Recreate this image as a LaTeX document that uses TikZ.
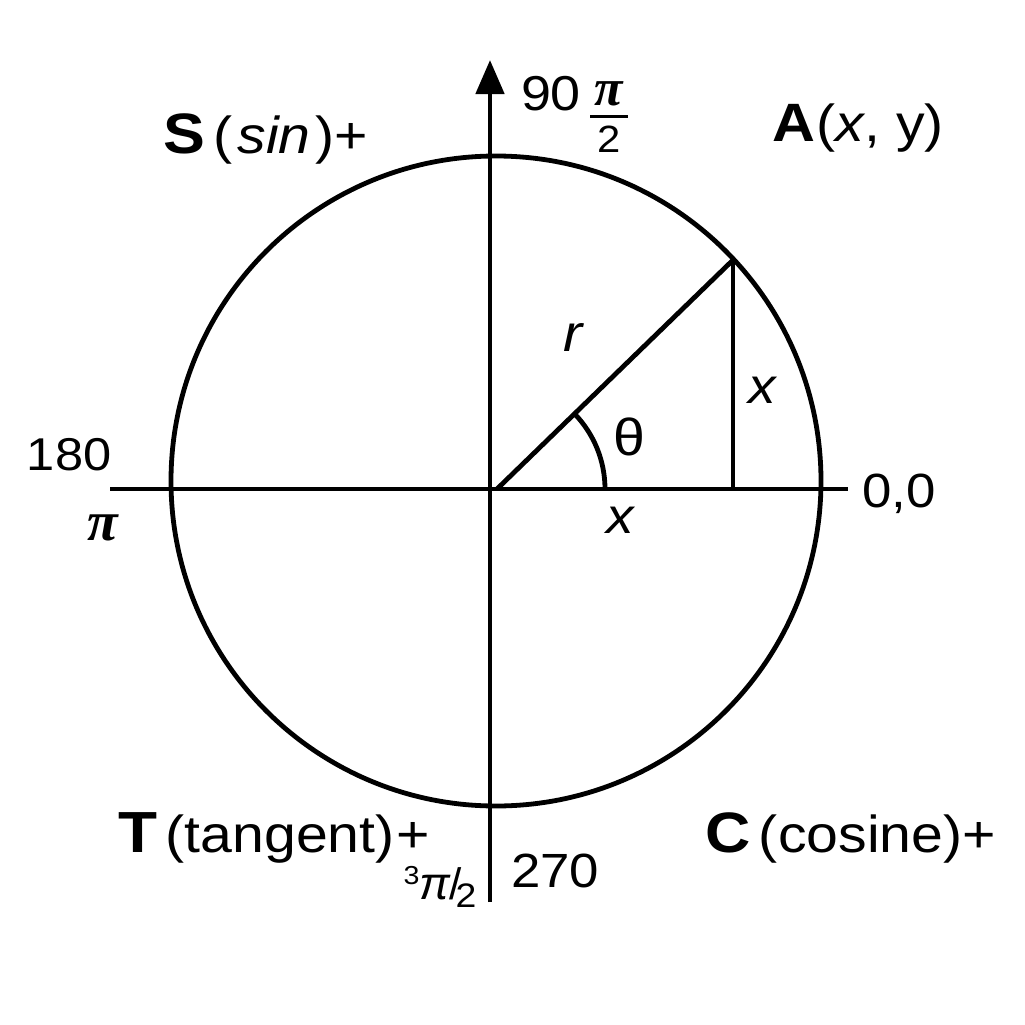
\documentclass[tikz,border=0pt]{standalone}
\usepackage{fontspec}
\setmainfont[FakeStretch=1.1]{Liberation Sans}
\newfontfamily\piserif{Liberation Serif}
\newfontfamily\pisans{Liberation Sans}
\usetikzlibrary{arrows.meta}
\tikzset{
  stroke/.style={line width=4.8pt, black},
  lbl/.style={inner sep=0pt, outer sep=0pt, font=\fontsize{46}{50}\selectfont},
  quad/.style={inner sep=0pt, outer sep=0pt, anchor=base west, font=\fontsize{52}{56}\selectfont},
}
\begin{document}
\begin{tikzpicture}[x=1pt,y=-1pt]
\useasboundingbox (0,0) rectangle (1025,1025);
\fill[white] (0,0) rectangle (1025,1025);
% axes
\coordinate (xl) at (110,489);
\coordinate (xr) at (848,489);
\coordinate (yb) at (490,902);
\coordinate (yt) at (490,60);
\coordinate (O) at (497,489);
\coordinate (C0) at (496,481);
\coordinate (P) at (733,260);
\coordinate (Q) at (733,489);
\draw[stroke] (xl) -- (xr);
\draw[stroke, -{Triangle[length=34pt,width=28pt]}] (yb) -- (yt);
% circle
\draw[stroke] (C0) circle[radius=325];
% radius and vertical
\draw[stroke] (O) -- (P);
\draw[stroke] (P) -- (Q);
% angle arc
\draw[stroke] (605,489) arc[start angle=0, end angle=-44, radius=108];
% inner labels
\node[lbl, font=\fontsize{52}{56}\selectfont\itshape] (r) at (573,338) {r};
\node[lbl, font=\fontsize{50}{56}\selectfont\itshape] (xv) at (762,390) {x};
\node[lbl, font=\fontsize{52}{56}\selectfont] (th) at (629,437) {θ};
\node[lbl, font=\fontsize{50}{56}\selectfont\itshape] (xh) at (620,520) {x};
% axis labels
\node[quad, font=\fontsize{48}{50}\selectfont] (n00) at (862,507) {0,0};
\node[quad, font=\fontsize{46}{50}\selectfont] (n180) at (27,470) {180};
\node[lbl, font=\fontsize{56}{56}\selectfont\piserif\bfseries\itshape] (npi) at (103,528) {π};
\node[quad, font=\fontsize{49}{50}\selectfont] (n90) at (521,110) {90};
\node[inner sep=0pt, outer sep=0pt, anchor=base, align=center, font=\fontsize{38}{30}\selectfont] (npi2) at (609,152)
  {{\fontsize{52}{30}\selectfont\piserif\bfseries\itshape π}\\[-17pt]\rule{38pt}{3.5pt}\\[4pt]2};
\node[quad, font=\fontsize{48}{50}\selectfont] (n270) at (511,887) {270};
\node[lbl] (n3pi2) at (440,888)
  {{\fontsize{26}{28}\selectfont\smash{\raisebox{15pt}{3}}}{\fontsize{46}{46}\selectfont\pisans\itshape π}\kern-1pt{\fontsize{44}{44}\selectfont\pisans /}\kern-6pt{\fontsize{34}{36}\selectfont\raisebox{-8pt}{2}}};
% quadrant labels
\node[quad] (S) at (163,153) {{\fontsize{57}{60}\selectfont\bfseries S}\,(\kern5pt\textit{sin}\kern5pt)+};
\node[quad] (A) at (772,141) {{\fontsize{54}{60}\selectfont\bfseries A}\kern2pt(\textit{x}, y)};
\node[quad] (T) at (118,852) {{\fontsize{58}{60}\selectfont\bfseries T}\,(tangent)\kern2pt+};
\node[quad] (C) at (705,852) {{\fontsize{57}{60}\selectfont\bfseries C}\,(cosine)+};
\end{tikzpicture}
\end{document}
